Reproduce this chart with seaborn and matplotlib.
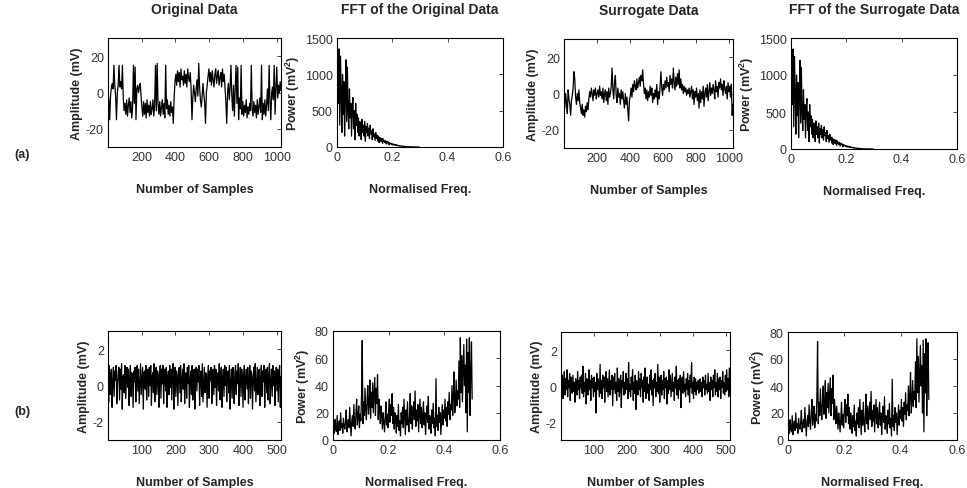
import numpy as np
import pandas as pd
import matplotlib
matplotlib.use('Agg')
import matplotlib.pyplot as plt
import seaborn as sns


# (a) original data, every 5th sample (1024 samples)
origA = [0, -4, -15, -2, 3, 5, 2, 15, 4, -2,
         -15, 0, 4, 15, 3, 6, 2, 15, -3, -10,
         -6, -12, -4, -13, -7, -3, -11, -5, -14, -8,
         15, -6, 14, -15, 2, 4, 0, 3, 5, -2,
         -8, -13, -5, -12, -6, -14, -4, -11, -7, -13,
         -5, -12, -9, -4, -13, -7, 15, -10, 16, -6,
         -12, -5, -13, -8, -4, -12, -6, -14, 15, -9,
         -4, -12, -7, -13, -5, -11, -8, -17, -3, 6,
         10, 4, 12, 6, 11, 3, 13, 7, 9, 4,
         12, 5, 10, 3, 13, 8, 6, 11, 2, -15,
         -3, 4, 0, -5, 2, 7, -2, 16, 3, -4,
         -8, -2, 5, -1, -6, -17, 0, 4, 9, 13,
         6, 11, 4, 12, 7, 3, 10, 13, 5, 9,
         12, 4, 8, 11, 3, 13, 6, 10, 2, -5,
         -17, 0, 5, -4, 3, 15, -2, -10, 4, -13,
         2, 15, -6, 14, -15, -3, -9, 15, -12, -5,
         -13, -7, -11, -4, -14, -8, -12, -6, -10, 15,
         -9, -13, -5, -11, -7, -14, -4, -12, -8, -3,
         -11, 15, -15, -6, -12, -4, -13, -7, 2, -10,
         15, -5, -15, 0, 3, -4, 15, -12, 2, 14,
         -3, 4, 0, 6, 1]

# (a) surrogate data, every 5th sample
surrA = [-2, -8, 0, -5, -11, 2, -3, -6, -12, -4,
         -1, 3, 12, 8, -2, -6, 0, -4, 2, -5,
         -8, -11, -6, -12, -9, -13, -7, -10, -5, -9,
         -3, 1, -2, 3, 0, -4, 2, -1, 3, -3,
         0, 2, -2, 4, -1, 1, -3, 3, -5, 0,
         2, -4, 1, -6, 3, -2, 0, 4, 14, 2,
         -3, 6, 10, -1, -5, 3, -2, 0, -6, 2,
         -3, 1, -4, -8, 0, -6, -2, -9, -15, -4,
         -1, 3, -2, 5, 1, 7, 4, 2, 8, 3,
         6, 9, 4, 10, 7, 13, 5, 0, 3, -3,
         2, -4, 1, -2, 4, -1, 3, -5, 0, -3,
         2, -2, 5, -6, 1, -3, 4, 12, 3, -1,
         5, 2, 7, 3, 9, 4, 6, 1, 10, 5,
         8, 3, 14, 6, 2, 9, 4, 11, 5, 13,
         3, 8, 2, 5, 0, 4, 1, 3, -1, 2,
         0, 3, -2, 1, 4, -3, 2, -6, 1, -2,
         3, -4, 0, -8, 2, -5, 1, -3, 4, -7,
         0, 3, -2, 5, -4, 1, 6, -1, 3, 0,
         5, 2, -3, 7, 1, 4, -2, 6, 3, 8,
         2, 5, -1, 7, 3, 0, 4, -3, 6, 1,
         4, -2, 5, -12, -6]

# (a) power spectrum, step 0.0025 in normalised freq (same for surrogate)
fftA = [700, 1000, 600, 1350, 300, 1250, 800, 200, 1000, 450,
        900, 150, 700, 1200, 350, 1100, 500, 250, 800, 400,
        600, 150, 550, 680, 250, 500, 100, 600, 300, 450,
        200, 400, 150, 350, 280, 100, 380, 200, 300, 150,
        350, 80, 280, 200, 320, 150, 260, 120, 300, 180,
        220, 100, 250, 140, 180, 90, 200, 120, 160, 80,
        150, 60, 130, 100, 70, 120, 50, 110, 80, 60,
        90, 40, 80, 55, 70, 30, 60, 45, 50, 35,
        45, 25, 40, 30, 35, 20, 30, 22, 25, 15,
        20, 12, 18, 10, 14, 8, 12, 6, 10, 5,
        6, 4, 5, 3, 4, 2, 3, 2, 2, 1,
        2, 1, 1, 1, 0, 1, 0, 0, 0, 0]

# (b) original data, every 2nd sample (512 samples)
origB = [0.4, -0.9, 1.1, -0.5, 0.6, 0.9, -1.2, 0.2, 1.0, -0.6,
         0.8, 0.3, 1.1, -1.0, 0.1, 0.7, 1.0, -0.8, 0.9, -0.2,
         1.2, -1.3, 0.5, 0.6, -0.4, 1.1, -0.7, 0.3, 1.0, -0.1,
         0.9, -1.1, 0.4, 1.1, -0.6, 0.7, 0.5, -1.2, 0.8, 0.2,
         1.0, -0.9, 0.6, 1.1, -0.3, 0.9, -1.0, 0.1, 1.2, -0.5,
         0.3, 1.0, -1.3, 0.7, 0.8, -0.2, 1.1, -0.8, 0.4, 0.9,
         -0.6, 1.0, 0.0, 1.1, -1.1, 0.5, 0.7, -0.4, 1.2, -0.9,
         0.2, 1.0, -0.5, 0.8, 0.6, -1.2, 0.3, 1.1, -0.7, 0.9,
         0.1, 1.1, -1.0, 0.6, 0.9, -0.3, 1.0, -1.2, 0.4, 0.8,
         -0.5, 1.1, -0.1, 0.9, -0.8, 0.7, 1.2, -1.3, 0.2, 1.0,
         -0.6, 0.8, 0.5, -1.1, 0.6, 1.0, -0.4, 1.1, -0.9, 0.3,
         0.9, -0.2, 1.2, -1.0, 0.4, 0.7, -0.7, 1.0, 0.1, 1.1,
         -1.2, 0.3, 0.8, -0.5, 1.1, -0.8, 0.6, 0.9, -1.3, 0.5,
         1.0, -0.3, 0.9, 0.2, 1.1, -1.1, 0.4, 0.8, -0.6, 1.2,
         -0.9, 0.1, 1.0, -0.4, 0.7, 0.6, -1.2, 0.5, 1.1, -0.7,
         0.8, 0.3, 1.0, -1.0, 0.2, 0.9, -0.5, 1.1, -0.1, 0.9,
         -1.1, 0.4, 0.7, -0.3, 1.2, -0.8, 0.5, 1.0, -1.2, 0.3,
         0.9, -0.6, 1.1, 0.0, 1.0, -0.9, 0.6, 0.8, -0.4, 1.1,
         -1.3, 0.2, 0.9, -0.7, 1.0, 0.4, -1.0, 0.7, 1.1, -0.5,
         0.8, 0.1, 1.2, -1.1, 0.3, 1.0, -0.6, 0.9, 0.5, -1.2,
         0.6, 1.1, -0.8, 0.4, 0.9, -0.2, 1.0, -1.0, 0.2, 1.1,
         -0.7, 0.8, 0.6, -1.3, 0.4, 1.0, -0.3, 1.2, -0.9, 0.1,
         1.0, -0.5, 0.7, 0.9, -1.1, 0.3, 1.1, -0.6, 0.8, 0.2,
         1.1, -1.2, 0.5, 0.9, -0.4, 1.0, -0.8, 0.6, 1.2, -1.0,
         0.2, 0.9, -0.6, 1.1, 0.0, 0.8, -1.1, 0.4, 1.0, -0.3,
         0.9, -0.9, 0.7, 1.1, -1.2, 0.5]

# (b) surrogate data, every 2nd sample
surrB = [1.1, -0.3, 0.6, -0.7, 0.2, 0.8, -0.5, 0.4, -0.2, 0.9,
         -0.6, 0.3, -0.1, 0.7, -0.8, 0.5, 0.0, -0.4, 0.6, -0.3,
         0.2, -0.9, 0.4, 0.1, -0.5, 0.8, -0.2, 0.3, -0.7, 0.5,
         -0.1, 0.6, -0.4, 1.1, -0.6, 0.2, -0.3, 0.7, -1.0, 0.4,
         0.1, -0.5, 0.9, -0.2, 0.3, -0.8, 0.6, -0.1, 0.4, -0.6,
         0.5, -0.3, 0.2, -1.5, 0.7, -0.2, 0.4, 0.0, -0.6, 1.2,
         -0.4, 0.3, -0.7, 0.6, -0.1, 0.5, -0.9, 0.2, 0.8, -0.3,
         0.4, -0.6, 0.1, 0.9, -0.5, 0.3, -0.2, 0.6, -1.1, 0.5,
         -0.2, 0.7, -0.4, 0.2, -0.8, 1.0, -0.3, 0.4, -0.6, 0.1,
         0.6, -1.2, 0.3, -0.1, 0.8, -0.5, 0.2, -0.4, 0.7, -0.2,
         0.4, -0.7, 1.3, -0.3, 0.1, -0.6, 0.5, -0.2, 0.9, -0.8,
         0.2, -0.4, 0.6, -1.3, 0.3, 0.1, -0.5, 0.8, -0.2, 0.4,
         -0.6, 0.7, -0.1, 0.3, -0.9, 0.5, -0.3, 1.0, -0.7, 0.2,
         0.5, -0.4, 0.1, -0.8, 0.6, -0.2, 0.9, -0.5, 0.3, -1.1,
         0.4, -0.1, 0.7, -0.6, 0.2, -0.3, 1.2, -0.4, 0.5, -0.9,
         0.1, 0.6, -0.5, 0.3, -0.2, 0.8, -0.7, 0.4, -0.1, 0.5,
         -1.0, 0.3, -0.4, 0.9, -0.2, 0.6, -0.6, 0.1, 0.7, -0.3,
         0.2, -0.8, 0.5, -0.1, 1.1, -0.5, 0.3, -0.7, 0.4, -0.2,
         0.6, -1.2, 0.2, 0.5, -0.4, 0.8, -0.3, 0.1, -0.6, 0.4,
         -0.2, 0.7, -0.5, 0.3, -0.9, 0.6, -0.1, 1.3, -0.4, 0.2,
         -0.7, 0.5, -0.3, 0.4, -0.5, 0.2, -0.2, 0.3, -0.4, 0.1,
         0.4, -0.3, 0.2, -0.6, 0.5, -0.1, 0.3, -0.5, 0.6, -0.2,
         0.1, -0.4, 0.7, -0.3, 0.2, -0.8, 0.5, -0.2, 0.3, -0.6,
         0.6, -0.1, 0.9, -0.5, 0.2, -0.3, 0.7, -0.6, 0.4, -0.2,
         0.5, -0.7, 0.3, -0.1, 0.8, -0.4, 0.2, -0.5, 0.6, -0.3,
         0.9, -0.2, 0.4, -0.6, 1.0, -0.5]

# (b) power spectrum, step 0.0025 from 0 to 0.5 (same for surrogate)
fftB = [2, 12, 5, 15, 8, 6, 18, 4, 10, 14,
        7, 20, 9, 12, 5, 16, 10, 8, 13, 22,
        6, 11, 15, 9, 24, 12, 3, 14, 18, 10,
        26, 13, 8, 20, 30, 11, 17, 25, 9, 19,
        14, 32, 73, 12, 28, 18, 38, 22, 15, 30,
        40, 19, 26, 44, 16, 35, 24, 42, 20, 33,
        46, 18, 38, 27, 48, 15, 30, 22, 12, 25,
        18, 8, 20, 14, 6, 16, 28, 11, 19, 9,
        22, 30, 13, 26, 18, 34, 12, 24, 8, 20,
        15, 5, 18, 10, 26, 7, 14, 3, 20, 12,
        24, 9, 30, 16, 4, 22, 11, 28, 14, 6,
        18, 34, 12, 25, 8, 20, 28, 15, 36, 10,
        22, 14, 26, 6, 19, 30, 12, 24, 9, 17,
        28, 11, 20, 4, 16, 25, 13, 32, 8, 18,
        14, 5, 22, 12, 27, 9, 16, 3, 45, 10,
        18, 7, 24, 13, 20, 4, 15, 26, 11, 22,
        16, 30, 14, 24, 10, 28, 19, 35, 15, 26,
        22, 40, 18, 32, 50, 20, 28, 44, 25, 36,
        30, 58, 24, 75, 35, 62, 28, 48, 70, 40,
        55, 20, 74, 6, 64, 35, 75, 18, 50, 72,
        30]


W, H = 967, 489


def axPos(l, r, t, b):
    # pixel box -> figure fraction
    return [l / W, 1 - b / H, (r - l) / W, (b - t) / H]


def drawPanel(ax, x, y, xlim, ylim, xticks, yticks, xlabel, ylabel, title=None):
    df = pd.DataFrame({'x': x, 'y': y})
    sns.lineplot(data=df, x='x', y='y', ax=ax, color='black', lw=0.9,
                 estimator=None, sort=False)
    ax.set_xlim(xlim)
    ax.set_ylim(ylim)
    ax.set_xticks(xticks)
    ax.set_xticklabels([('%g' % v) for v in xticks])
    ax.set_yticks(yticks)
    ax.set_yticklabels([('%g' % v) for v in yticks])
    ax.tick_params(direction='in', length=3, width=0.6, top=True, right=True,
                   labelsize=9, labelcolor='#333333', pad=3)
    for s in ax.spines.values():
        s.set_visible(True)
        s.set_color('black')
        s.set_linewidth(0.8)
    ax.set_xlabel(xlabel, fontsize=9, fontweight='bold', labelpad=14.5)
    ax.set_ylabel(ylabel, fontsize=9, fontweight='bold', labelpad=2)
    if title:
        ax.set_title(title, fontsize=10, fontweight='bold', pad=18)


sns.set_theme(style='white')
plt.rcParams['font.family'] = ['Liberation Sans', 'DejaVu Sans']
plt.rcParams['mathtext.default'] = 'regular'
plt.rcParams['axes.unicode_minus'] = False

fig = plt.figure(figsize=(W / 100, H / 100), dpi=100)

tA = np.linspace(1, 1024, len(origA))
tA2 = np.linspace(1, 1024, len(surrA))
tB = np.linspace(1, 512, len(origB))
tB2 = np.linspace(1, 512, len(surrB))
fA = np.arange(len(fftA)) * 0.0025
fB = np.arange(len(fftB)) * 0.0025

ampLabel = 'Amplitude (mV)'
powLabel = 'Power (mV$^2$)'
sampLabel = 'Number of Samples'
freqLabel = 'Normalised Freq.'

ax = fig.add_axes(axPos(108, 281, 39, 148))
drawPanel(ax, tA, origA, (1, 1024), (-30, 30), [200, 400, 600, 800, 1000],
          [-20, 0, 20], sampLabel, ampLabel, 'Original Data')
ax = fig.add_axes(axPos(337, 503, 39, 148))
drawPanel(ax, fA, fftA, (0, 0.6), (0, 1500), [0, 0.2, 0.4, 0.6],
          [0, 500, 1000, 1500], freqLabel, powLabel, 'FFT of the Original Data')
ax = fig.add_axes(axPos(564, 733, 40, 149))
drawPanel(ax, tA2, surrA, (1, 1024), (-30, 30), [200, 400, 600, 800, 1000],
          [-20, 0, 20], sampLabel, ampLabel, 'Surrogate Data')
ax = fig.add_axes(axPos(791, 957, 39, 150))
drawPanel(ax, fA, fftA, (0, 0.6), (0, 1500), [0, 0.2, 0.4, 0.6],
          [0, 500, 1000, 1500], freqLabel, powLabel, 'FFT of the Surrogate Data')

ax = fig.add_axes(axPos(108, 281, 332, 441))
drawPanel(ax, tB, origB, (1, 512), (-3, 3), [100, 200, 300, 400, 500],
          [-2, 0, 2], sampLabel, ampLabel)
ax = fig.add_axes(axPos(333, 500, 332, 441))
drawPanel(ax, fB, fftB, (0, 0.6), (0, 80), [0, 0.2, 0.4, 0.6],
          [0, 20, 40, 60, 80], freqLabel, powLabel)
ax = fig.add_axes(axPos(561, 730, 333, 441))
drawPanel(ax, tB2, surrB, (1, 512), (-3, 3), [100, 200, 300, 400, 500],
          [-2, 0, 2], sampLabel, ampLabel)
ax = fig.add_axes(axPos(788, 957, 333, 441))
drawPanel(ax, fB, fftB, (0, 0.6), (0, 80), [0, 0.2, 0.4, 0.6],
          [0, 20, 40, 60, 80], freqLabel, powLabel)

fig.text(14 / W, 1 - 155 / H, '(a)', fontsize=9, fontweight='bold', va='center')
fig.text(14 / W, 1 - 412 / H, '(b)', fontsize=9, fontweight='bold', va='center')

fig.savefig('out.png', dpi=100)
